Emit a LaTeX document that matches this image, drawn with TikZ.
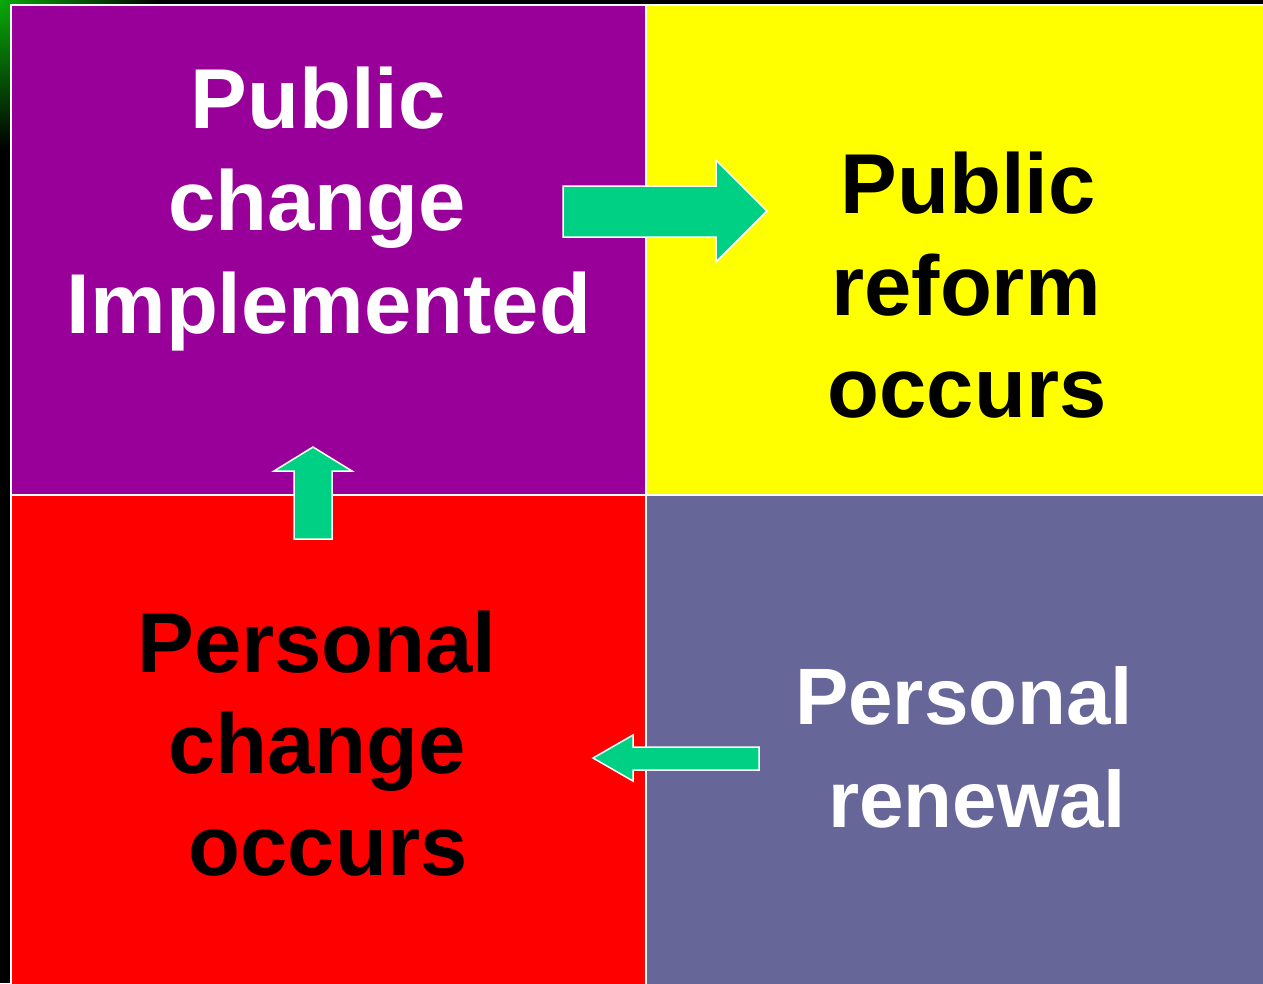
\documentclass[tikz,border=0pt]{standalone}
\usepackage{fontspec}
\setmainfont{Liberation Sans}
\definecolor{qpurple}{RGB}{153,0,153}
\definecolor{qyellow}{RGB}{255,255,0}
\definecolor{qred}{RGB}{255,0,0}
\definecolor{qslate}{RGB}{102,102,153}
\definecolor{qgreen}{RGB}{0,208,132}
\definecolor{glowgreen}{RGB}{10,170,10}
\begin{document}
\begin{tikzpicture}[x=1pt,y=-1pt,
  arrowshape/.style={fill=qgreen,draw=white,line width=1.5pt,line join=miter},
  bigtxt/.style={font=\fontsize{85}{100}\selectfont\bfseries,anchor=base,inner sep=0pt},
  smtxt/.style={font=\fontsize{80}{100}\selectfont\bfseries,anchor=base,inner sep=0pt}]
\useasboundingbox (0,0) rectangle (1263,983);
\fill[black] (0,0) rectangle (1263,983);
\begin{scope}
\clip (0,0) rectangle (1263,983);
\shade[inner color=glowgreen,outer color=black] (0,0) ellipse (160 and 150);
\end{scope}
% quadrants
\fill[qpurple] (11,5) rectangle (646,495);
\fill[qyellow] (646,5) rectangle (1270,495);
\fill[qred] (11,495) rectangle (646,990);
\fill[qslate] (646,495) rectangle (1270,990);
\draw[white,line width=2pt] (11,990) -- (11,5) -- (1270,5);
\draw[white,line width=1.5pt] (646,5) -- (646,990);
\draw[white,line width=1.5pt] (11,495) -- (1270,495);
% arrows
\draw[arrowshape] (563,186) -- (716,186) -- (716,160) -- (767,211) -- (716,262) -- (716,237) -- (563,237) -- cycle;
\draw[arrowshape] (313,447) -- (352,471) -- (332,471) -- (332,539) -- (294,539) -- (294,471) -- (274,471) -- cycle;
\draw[arrowshape] (593,758) -- (633,735) -- (633,747) -- (759,747) -- (759,770) -- (633,770) -- (633,781) -- cycle;
% texts
\node[bigtxt,white] (tl1) at (318,128) {Public};
\node[bigtxt,white] (tl2) at (317,230) {change};
\node[bigtxt,white] (tl3) at (329,333) {Implemented};
\node[bigtxt,black] (tr1) at (968,213) {Public};
\node[bigtxt,black] (tr2) at (966,315) {reform};
\node[bigtxt,black] (tr3) at (967,417) {occurs};
\node[bigtxt,black] (bl1) at (317,672) {Personal};
\node[bigtxt,black] (bl2) at (317,773) {change};
\node[bigtxt,black] (bl3) at (328,875) {occurs};
\node[smtxt,white] (br1) at (964,724) {Personal};
\node[smtxt,white] (br2) at (977,827) {renewal};
\end{tikzpicture}
\end{document}
